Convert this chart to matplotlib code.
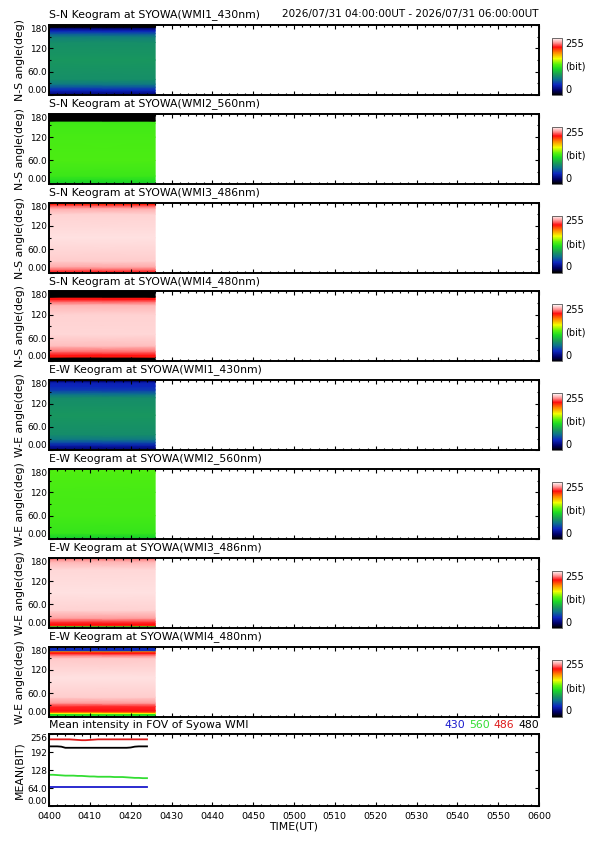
import numpy as np
import matplotlib
matplotlib.use("Agg")
import matplotlib.pyplot as plt
from matplotlib.colors import LinearSegmentedColormap
from matplotlib.ticker import MultipleLocator, FixedLocator

plt.rcParams['font.family'] = ['DejaVu Sans', 'Liberation Sans']

# ---- data ----
# keogram time span, minutes after 04:00 UT
keo_times = [0, 26]

titles = ["S-N Keogram at SYOWA(WMI1_430nm)", "S-N Keogram at SYOWA(WMI2_560nm)",
          "S-N Keogram at SYOWA(WMI3_486nm)", "S-N Keogram at SYOWA(WMI4_480nm)",
          "E-W Keogram at SYOWA(WMI1_430nm)", "E-W Keogram at SYOWA(WMI2_560nm)",
          "E-W Keogram at SYOWA(WMI3_486nm)", "E-W Keogram at SYOWA(WMI4_480nm)"]
ylabels = ["N-S angle(deg)"] * 4 + ["W-E angle(deg)"] * 4

# angle profiles (deg) and intensity (bit)
sn430_ang = [0, 6, 12, 20, 28, 40, 90, 135, 150, 158, 165, 170, 174, 175, 180]
sn430_val = [25, 32, 45, 60, 75, 86, 90, 86, 78, 62, 45, 30, 15, 0, 0]

sn560_ang = [0, 8, 20, 60, 120, 155, 161, 161.5, 180]
sn560_val = [112, 120, 128, 133, 132, 130, 128, 0, 0]

sn486_ang = [0, 3, 8, 15, 30, 90, 150, 165, 172, 176, 178, 180]
sn486_val = [212, 218, 228, 238, 245, 249, 246, 238, 225, 212, 190, 185]

sn480_ang = [0, 11, 11.5, 16, 25, 40, 70, 120, 145, 155, 160, 165, 165.5, 180]
sn480_val = [0, 0, 212, 215, 228, 242, 247, 246, 240, 225, 215, 212, 0, 0]

ew430_ang = [0, 6, 12, 20, 28, 40, 90, 135, 145, 155, 165, 174, 177, 180]
ew430_val = [25, 28, 40, 58, 75, 85, 90, 85, 70, 52, 45, 42, 25, 20]

ew560_ang = [0, 5, 15, 60, 120, 170, 180]
ew560_val = [105, 115, 126, 131, 132, 134, 136]

ew486_ang = [0, 5, 5.5, 10, 16, 25, 45, 90, 150, 170, 176, 180]
ew486_val = [118, 118, 210, 214, 222, 236, 246, 249, 247, 240, 232, 228]

ew480_ang = [0, 7, 8, 11, 12, 16, 26, 35, 50, 100, 150, 158, 163, 168, 169, 169.5, 180]
ew480_val = [120, 120, 165, 170, 205, 215, 218, 235, 245, 249, 244, 230, 215, 200, 185, 48, 45]

profiles = [(sn430_ang, sn430_val), (sn560_ang, sn560_val), (sn486_ang, sn486_val),
            (sn480_ang, sn480_val), (ew430_ang, ew430_val), (ew560_ang, ew560_val),
            (ew486_ang, ew486_val), (ew480_ang, ew480_val)]

# mean intensity in FOV, 1 min steps from 04:00
mean_t = [0, 1, 2, 3, 4, 5, 6, 7, 8, 9, 10, 11, 12, 13, 14, 15, 16, 17, 18, 19, 20, 21, 22, 23, 24]
mean_430 = [67, 67, 67, 67, 67, 67, 67, 67, 67, 67, 67, 67, 67, 67, 67, 67, 67, 67, 67, 67, 67, 67, 67, 67, 67]
mean_560 = [111, 111, 110, 109, 108, 108, 108, 107, 107, 106, 105, 105, 104, 104, 104, 104, 103, 103,
            103, 102, 101, 100, 100, 99, 99]
mean_486 = [237, 237, 237, 237, 237, 237, 236, 235, 234, 234, 235, 236, 237, 237, 237, 237, 237, 237,
            237, 237, 237, 237, 237, 237, 237]
mean_480 = [212, 212, 212, 211, 207, 207, 207, 207, 207, 207, 207, 207, 207, 207, 207, 207, 207, 207,
            207, 207, 208, 211, 212, 212, 212]
mean_names = ["430", "560", "486", "480"]
mean_colors = ["#1a1acc", "#33dd33", "#dd1a1a", "black"]

# rainbow + white colour table
cmap = LinearSegmentedColormap.from_list("rainbow_white", [
    (0.00, (0, 0, 0)), (0.08, (0, 0, 0.4)), (0.18, (0.05, 0.15, 0.75)),
    (0.28, (0.05, 0.45, 0.55)), (0.36, (0.1, 0.6, 0.35)), (0.46, (0.1, 0.85, 0.15)),
    (0.54, (0.35, 0.95, 0.05)), (0.64, (0.95, 1.0, 0.0)), (0.74, (1.0, 0.55, 0.0)),
    (0.84, (1.0, 0.05, 0.05)), (0.92, (1.0, 0.6, 0.6)), (1.00, (1, 1, 1))])

W, H = 595, 842
fig = plt.figure(figsize=(W / 100, H / 100), dpi=100)
fs = 7.8
tfs = 6.4


def fmt_time(m, pos=None):
    m = int(round(m))
    return f"{4 + m // 60:02d}{m % 60:02d}"


def style_axes(ax):
    for s in ax.spines.values():
        s.set_linewidth(1.4)
    ax.set_xlim(0, 120)
    ax.xaxis.set_major_locator(MultipleLocator(10))
    ax.xaxis.set_minor_locator(MultipleLocator(2))
    ax.tick_params(which='both', direction='in', top=True, right=True, width=0.8,
                   labelsize=tfs, pad=1.5)
    ax.tick_params(which='major', length=3)
    ax.tick_params(which='minor', length=1.5)


def push_end_labels(ax):
    labs = ax.get_yticklabels()
    labs[0].set_va('bottom')
    labs[-1].set_va('top')


for k in range(8):
    top = 25 + k * 88.8
    ax = fig.add_axes([49 / W, 1 - (top + 70) / H, 490 / W, 70 / H])
    ang, val = profiles[k]
    T, A = np.meshgrid(keo_times, ang)
    C = np.column_stack([val, val])
    mesh = ax.pcolormesh(T, A, C, cmap=cmap, vmin=0, vmax=255, shading='gouraud')
    style_axes(ax)
    ax.set_ylim(0, 180)
    ax.yaxis.set_major_locator(FixedLocator([0, 60, 120, 180]))
    ax.yaxis.set_minor_locator(FixedLocator([30, 90, 150]))
    ax.set_yticklabels(["0.00", "60.0", "120", "180"])
    push_end_labels(ax)
    ax.tick_params(labelbottom=False)
    ax.set_ylabel(ylabels[k], fontsize=fs)
    ax.yaxis.set_label_coords(-0.048, 0.5)
    ax.annotate(titles[k], xy=(0, 1), xycoords='axes fraction', xytext=(0, 5.5),
                textcoords='offset points', ha='left', va='baseline', fontsize=fs)
    if k == 0:
        ax.annotate("2026/07/31 04:00:00UT - 2026/07/31 06:00:00UT", xy=(1, 1),
                    xycoords='axes fraction', xytext=(0, 5.5), textcoords='offset points',
                    ha='right', va='baseline', fontsize=7.5)

    cax = fig.add_axes([552 / W, 1 - (top + 70) / H, 10 / W, 57 / H])
    cb = fig.colorbar(mesh, cax=cax, ticks=[])
    cb.outline.set_linewidth(0.4)
    cax.text(1.3, 0.9, "255", transform=cax.transAxes, ha='left', va='center', fontsize=7)
    cax.text(1.3, 0.5, "(bit)", transform=cax.transAxes, ha='left', va='center', fontsize=7)
    cax.text(1.3, 0.09, "0", transform=cax.transAxes, ha='left', va='center', fontsize=7)

# mean intensity panel
ax = fig.add_axes([49 / W, 1 - 806 / H, 490 / W, 72 / H])
for series, c in zip([mean_430, mean_560, mean_486, mean_480], mean_colors):
    ax.plot(mean_t, series, color=c, linewidth=1.3)
style_axes(ax)
ax.set_ylim(0, 256)
ax.yaxis.set_major_locator(FixedLocator([0, 64, 128, 192, 256]))
ax.set_yticklabels(["0.00", "64.0", "128", "192", "256"])
push_end_labels(ax)
ax.xaxis.set_major_formatter(plt.FuncFormatter(fmt_time))
ax.tick_params(axis='x', pad=4.5, labelsize=6.8)
ax.set_xlabel("TIME(UT)", fontsize=fs, labelpad=0.5)
ax.set_ylabel("MEAN(BIT)", fontsize=fs)
ax.yaxis.set_label_coords(-0.05, 0.5)
ax.annotate("Mean intensity in FOV of Syowa WMI", xy=(0, 1), xycoords='axes fraction',
            xytext=(0, 4.5), textcoords='offset points', ha='left', va='baseline', fontsize=fs)

# coloured legend words, right aligned
x_right = 1.0
for name, c in reversed(list(zip(mean_names, mean_colors))):
    t = ax.annotate(name, xy=(x_right, 1), xycoords='axes fraction', xytext=(0, 4.5),
                    textcoords='offset points', ha='right', va='baseline', fontsize=fs, color=c)
    fig.canvas.draw()
    bb = t.get_window_extent().transformed(ax.transAxes.inverted())
    x_right = bb.x0 - 0.008

fig.savefig("out.png", dpi=100)
